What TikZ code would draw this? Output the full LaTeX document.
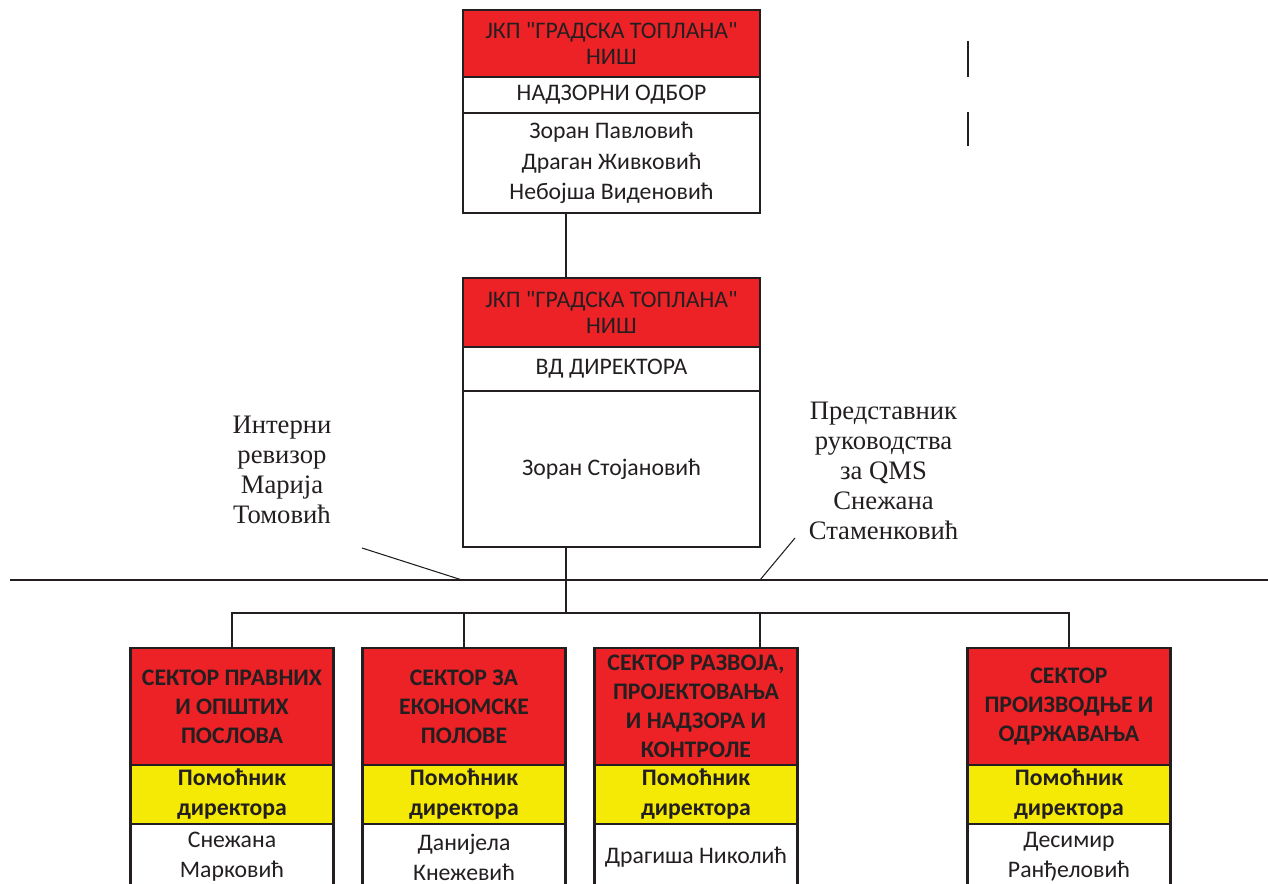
\documentclass[tikz,border=0pt]{standalone}
\usepackage{fontspec}
\setmainfont{Carlito}[Ligatures=TeXOff]
\newfontfamily\serifcyr{Liberation Serif}
\definecolor{redf}{HTML}{EC2227}
\definecolor{yelf}{HTML}{F5EA05}
\definecolor{ink}{HTML}{231F20}
\begin{document}
\begin{tikzpicture}[x=0.75pt,y=-0.75pt,
  cell/.style={draw=ink, line width=1.9pt, inner sep=0pt, outer sep=0pt, align=center, text=ink,
    font=\fontsize{17.8}{23}\selectfont},
  bigw/.style={minimum width={297*0.75pt}},
  secw/.style={minimum width={203*0.75pt}},
  redcell/.style={cell, fill=redf},
  yelcell/.style={cell, fill=yelf, font=\bfseries\fontsize{17.8}{22.5}\selectfont},
  sectitle/.style={redcell, secw, minimum height={117*0.75pt}, font=\bfseries\fontsize{17.8}{21.75}\selectfont},
  conn/.style={draw=ink, line width=1.9pt},
  thin/.style={draw=ink, line width=0.8pt},
  lbl/.style={align=center, text=ink, inner sep=0pt, font=\serifcyr\fontsize{20}{22.5}\selectfont}]
\useasboundingbox (0,0) rectangle (1268,884);
\clip (0,0) rectangle (1268,884);

% top box
\node[redcell, bigw, minimum height={67*0.75pt}, font=\fontsize{17.8}{20}\selectfont] (t1) at (611.5,43.5) {ЈКП "ГРАДСКА ТОПЛАНА"\\НИШ};
\node[cell, bigw, minimum height={36*0.75pt}] (t2) at (611.5,95) {НАДЗОРНИ ОДБОР};
\node[cell, bigw, minimum height={100*0.75pt}] (t3) at (611.5,163) {Зоран Павловић\\Драган Живковић\\Небојша Виденовић};

% director box
\node[redcell, bigw, minimum height={69*0.75pt}, font=\fontsize{17.8}{20}\selectfont] (d1) at (611.5,312.5) {ЈКП "ГРАДСКА ТОПЛАНА"\\НИШ};
\node[cell, bigw, minimum height={44*0.75pt}] (d2) at (611.5,369) {ВД ДИРЕКТОРА};
\node[cell, bigw, minimum height={156*0.75pt}] (d3) at (611.5,469) {Зоран Стојановић};

% sectors
\node[sectitle] (s1t) at (232,706.5) {СЕКТОР ПРАВНИХ\\И ОПШТИХ\\ПОСЛОВА};
\node[yelcell, secw, minimum height={59*0.75pt}] (s1y) at (232,794.5) {Помоћник\\директора};
\node[cell, secw, minimum height={66*0.75pt}, font=\fontsize{17.8}{22.5}\selectfont] (s1n) at (232,857) {Снежана\\Марковић};

\node[sectitle] (s2t) at (464,706.5) {СЕКТОР ЗА\\ЕКОНОМСКЕ\\ПОЛОВЕ};
\node[yelcell, secw, minimum height={59*0.75pt}] (s2y) at (464,794.5) {Помоћник\\директора};
\node[cell, secw, minimum height={66*0.75pt}, font=\fontsize{17.8}{22.5}\selectfont] (s2n) at (464,857) {Данијела\\Кнежевић};

\node[sectitle] (s3t) at (696,706.5) {СЕКТОР РАЗВОЈА,\\ПРОЈЕКТОВАЊА\\И НАДЗОРА И\\КОНТРОЛЕ};
\node[yelcell, secw, minimum height={59*0.75pt}] (s3y) at (696,794.5) {Помоћник\\директора};
\node[cell, secw, minimum height={66*0.75pt}] (s3n) at (696,857) {Драгиша Николић};

\node[sectitle] (s4t) at (1069,706.5) {СЕКТОР\\ПРОИЗВОДЊЕ И\\ОДРЖАВАЊА};
\node[yelcell, secw, minimum height={59*0.75pt}] (s4y) at (1069,794.5) {Помоћник\\директора};
\node[cell, secw, minimum height={66*0.75pt}, font=\fontsize{17.8}{22.5}\selectfont] (s4n) at (1069,857) {Десимир\\Ранђеловић};

% side labels
\node[lbl] (irev) at (282,470) {Интерни\\ревизор\\Марија\\Томовић};
\node[lbl] (qms) at (883.5,470.5) {Представник\\руководства\\за QMS\\Снежана\\Стаменковић};

% connectors
\coordinate (jx) at (566,0);
\coordinate (x3) at (760,0);
\coordinate (br) at (566,613);
\draw[conn] (t3.south -| jx) -- (d1.north -| jx);
\draw[conn] (d3.south -| jx) -- (br);
\draw[conn] (s1t.north) |- (br);
\draw[conn] (s2t.north) |- (br);
\draw[conn] (s3t.north -| x3) |- (br);
\draw[conn] (s4t.north) |- (br);

\coordinate (hl) at (10,580);
\coordinate (hr) at (1268,580);
\draw[conn, line width=1.6pt] (hl) -- (hr);

\coordinate (a1) at (362,548);
\coordinate (a2) at (462,580);
\draw[thin] (a1) -- (a2);
\coordinate (b1) at (795,538);
\coordinate (b2) at (760,580);
\draw[thin] (b1) -- (b2);

\coordinate (v1a) at (968,41);
\coordinate (v1b) at (968,77);
\coordinate (v2a) at (968,112);
\coordinate (v2b) at (968,146);
\draw[conn, line width=1.5pt] (v1a) -- (v1b);
\draw[conn, line width=1.5pt] (v2a) -- (v2b);
\end{tikzpicture}
\end{document}
